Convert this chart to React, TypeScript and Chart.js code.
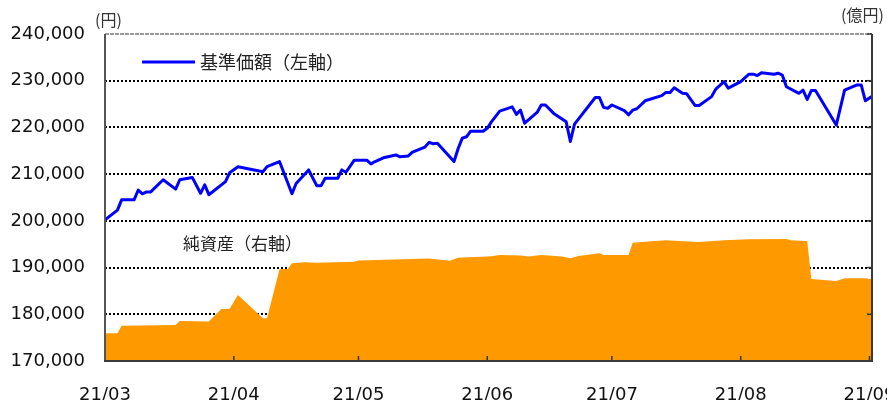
import React, { useEffect, useRef } from 'react';
import { Chart, registerables } from 'chart.js';

Chart.register(...registerables);

// x positions are days counted from 2021-03-01
const monthTicks = [0, 31, 61, 92, 122, 153, 184];
const monthLabels = ['21/03', '21/04', '21/05', '21/06', '21/07', '21/08', '21/09'];

// 基準価額 (円), left axis
const navDays = [
  0, 3, 4, 7, 8, 9, 10, 11, 14, 17, 18, 21, 23, 24, 25, 29, 30, 32, 38, 39,
  42, 45, 46, 49, 51, 52, 53, 56, 57, 58, 60, 63, 64, 65, 67, 70, 71, 73, 74, 77,
  78, 79, 80, 84, 85, 86, 87, 88, 91, 92, 93, 95, 98, 99, 100, 101, 104, 105, 106, 108,
  111, 112, 113, 118, 119, 120, 121, 122, 125, 126, 127, 128, 130, 134, 135, 136, 137, 139, 140, 142,
  143, 146, 147, 149, 150, 153, 155, 156, 157, 158, 161, 162, 163, 164, 167, 168, 169, 170, 171, 176,
  178, 181, 182, 183, 184.5,
];
const navValues = [
  200200, 202300, 204500, 204500, 206600, 205800, 206200, 206200, 208800, 206800, 208800, 209300, 205900, 207700, 205600, 208400, 210300, 211600, 210500, 211600,
  212700, 205800, 208000, 210900, 207500, 207500, 209100, 209100, 210900, 210400, 213000, 213000, 212200, 212700, 213500, 214100, 213700, 213900, 214700, 215800,
  216800, 216500, 216600, 212700, 215500, 217700, 218000, 219200, 219200, 219800, 221200, 223500, 224400, 222800, 223700, 220900, 223200, 224800, 224800, 223000,
  221200, 217000, 220700, 226400, 226400, 224300, 224100, 224800, 223600, 222700, 223700, 224000, 225700, 226800, 227500, 227500, 228500, 227300, 227200, 224700,
  224700, 226600, 228200, 229800, 228400, 229800, 231400, 231400, 231100, 231700, 231400, 231600, 231200, 228700, 227300, 228000, 226000, 227900, 227900, 220500,
  228000, 229100, 229100, 225700, 226600,
];

// 純資産 (億円), right axis
const assetDays = [
  0, 3, 4, 17, 18, 25, 28, 30, 32, 38,
  39, 42, 44, 45, 48, 51, 60, 61, 78, 83,
  85, 93, 95, 100, 102, 105, 110, 112, 114, 119,
  120, 126, 127, 130, 135, 138, 143, 149, 155, 164,
  165, 169, 170, 176, 178, 183, 184.5,
];
const assetValues = [
  119, 119, 151, 154, 171, 169, 223, 224, 283, 183,
  183, 393, 394, 418, 423, 421, 425, 430, 439, 429,
  442, 448, 454, 452, 447, 454, 447, 440, 450, 461,
  454, 454, 506, 511, 517, 514, 509, 517, 521, 522,
  517, 514, 351, 342, 354, 354, 350,
];

const navLabel = '基準価額（左軸）';
const assetLabel = '純資産（右軸）';
const leftUnit = '(円)';
const rightUnit = '(億円)';

const TICK_FONT = { family: '"DejaVu Sans", Verdana, sans-serif', size: 18 };
const CJK = '"Noto Sans CJK JP", sans-serif';

export default function App() {
  const ref = useRef<HTMLCanvasElement>(null);

  useEffect(() => {
    document.body.style.margin = '0';
    const canvas = ref.current;
    if (!canvas) return;

    const framePlugin = {
      id: 'framePlugin',
      afterDatasetsDraw(chart: any) {
        const { ctx, chartArea: a, scales } = chart;
        ctx.save();
        // inward tick marks
        ctx.strokeStyle = '#333';
        ctx.lineWidth = 1.5;
        monthTicks.forEach((v) => {
          const px = scales.x.getPixelForValue(v);
          ctx.beginPath();
          ctx.moveTo(px, a.bottom);
          ctx.lineTo(px, a.bottom - 5);
          ctx.stroke();
        });
        scales.y1.ticks.forEach((t: any) => {
          const py = scales.y1.getPixelForValue(t.value);
          ctx.beginPath();
          ctx.moveTo(a.right, py);
          ctx.lineTo(a.right - 5, py);
          ctx.stroke();
        });
        // frame
        ctx.lineWidth = 2;
        ctx.strokeStyle = '#555';
        ctx.beginPath();
        ctx.moveTo(a.left, a.top);
        ctx.lineTo(a.left, a.bottom);
        ctx.stroke();
        ctx.strokeStyle = '#3a3a3a';
        ctx.beginPath();
        ctx.moveTo(a.left - 1, a.bottom);
        ctx.lineTo(a.right, a.bottom);
        ctx.moveTo(a.right, a.top);
        ctx.lineTo(a.right, a.bottom + 1);
        ctx.stroke();
        ctx.restore();
      },
      afterDraw(chart: any) {
        const { ctx } = chart;
        ctx.save();
        // legend for line
        ctx.strokeStyle = '#0000ff';
        ctx.lineWidth = 3;
        ctx.beginPath();
        ctx.moveTo(142, 62);
        ctx.lineTo(195, 62);
        ctx.stroke();
        ctx.fillStyle = '#222';
        ctx.textBaseline = 'middle';
        ctx.textAlign = 'left';
        ctx.font = `18px ${CJK}`;
        ctx.fillText(navLabel, 200, 62);
        ctx.font = `17px ${CJK}`;
        ctx.fillText(assetLabel, 183, 244);
        ctx.font = `16px ${CJK}`;
        ctx.fillStyle = '#333';
        ctx.fillText(leftUnit, 95, 20);
        ctx.fillText(rightUnit, 841, 15);
        ctx.restore();
      },
    };

    const chart = new Chart(canvas, {
      type: 'line',
      data: {
        datasets: [
          {
            label: navLabel,
            data: navDays.map((d, i) => ({ x: d, y: navValues[i] })),
            xAxisID: 'x',
            yAxisID: 'y',
            borderColor: '#0000ff',
            borderWidth: 3,
            borderJoinStyle: 'round',
            pointRadius: 0,
            tension: 0,
            fill: false,
          },
          {
            label: assetLabel,
            data: assetDays.map((d, i) => ({ x: d, y: assetValues[i] })),
            xAxisID: 'x',
            yAxisID: 'y1',
            borderColor: '#ff9900',
            backgroundColor: '#ff9900',
            borderWidth: 0,
            pointRadius: 0,
            tension: 0,
            fill: 'start',
          },
        ],
      } as any,
      options: {
        responsive: false,
        animation: false,
        devicePixelRatio: 1,
        events: [],
        layout: { padding: { top: 34, right: 15, left: 0, bottom: 0 } },
        plugins: { legend: { display: false }, tooltip: { enabled: false } },
        scales: {
          x: {
            type: 'linear',
            min: 0,
            max: 184.6,
            afterBuildTicks: (s: any) => {
              s.ticks = monthTicks.map((v) => ({ value: v }));
            },
            afterFit: (s: any) => {
              s.height = 39;
              s.paddingLeft = 0;
              s.paddingRight = 0;
            },
            ticks: {
              autoSkip: false,
              maxRotation: 0,
              padding: 16,
              color: '#111',
              font: TICK_FONT,
              callback: (v: any) => {
                const i = monthTicks.indexOf(Number(v));
                return i >= 0 ? monthLabels[i] : '';
              },
            },
            grid: { display: false },
            border: { display: false },
          },
          y: {
            position: 'left',
            min: 170000,
            max: 240000,
            afterFit: (s: any) => {
              s.width = 105;
              s.paddingTop = 0;
              s.paddingBottom = 0;
            },
            ticks: {
              stepSize: 10000,
              padding: 20,
              color: '#111',
              font: TICK_FONT,
              callback: (v: any) => Number(v).toLocaleString('en-US'),
            },
            grid: {
              drawTicks: false,
              lineWidth: 2,
              color: (c: any) => (c.tick && c.tick.value === 240000 ? '#9a9a9a' : '#000'),
            },
            border: {
              display: false,
              dash: (c: any) => (c.tick && c.tick.value === 240000 ? [4, 1] : [2, 2]),
            },
          },
          y1: {
            position: 'right',
            min: 0,
            max: 1400,
            afterFit: (s: any) => {
              s.width = 0;
              s.paddingTop = 0;
              s.paddingBottom = 0;
            },
            ticks: { display: false, stepSize: 200 },
            grid: { display: false },
            border: { display: false },
          },
        },
      } as any,
      plugins: [framePlugin],
    });

    return () => chart.destroy();
  }, []);

  return (
    <div style={{ width: 887, height: 400 }}>
      <canvas ref={ref} width={887} height={400} style={{ display: 'block' }} />
    </div>
  );
}
